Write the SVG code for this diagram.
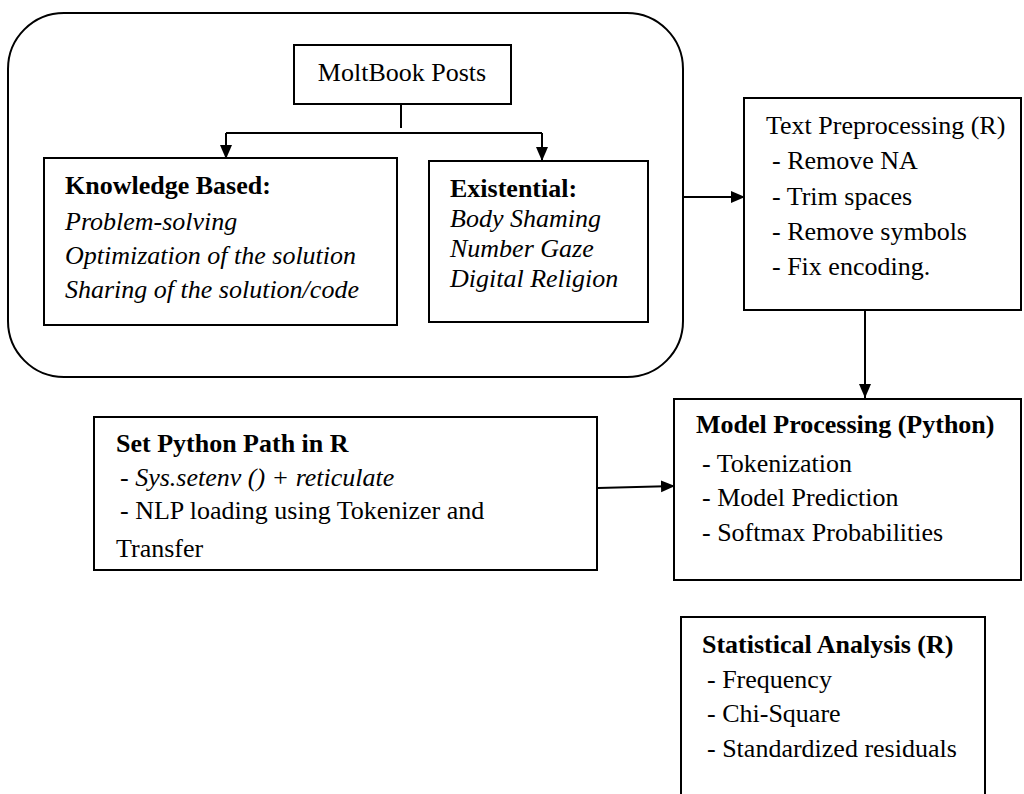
<svg xmlns="http://www.w3.org/2000/svg" width="1024" height="794" viewBox="0 0 1024 794">
<style>
.box{fill:#fff;stroke:#000;stroke-width:2}
.t{font-family:"Liberation Serif","DejaVu Serif",serif;font-size:26px;fill:#000}
.b{font-weight:bold}
.i{font-style:italic}
.c{fill:none;stroke:#000;stroke-width:2}
</style>
<defs>
<marker id="ah" markerUnits="userSpaceOnUse" markerWidth="14" markerHeight="14" viewBox="0 0 14 14" refX="14" refY="7" orient="auto">
<path d="M0,1 L14,7 L0,13 Z" fill="#000"/>
</marker>
</defs>
<rect width="1024" height="794" fill="#fff"/>
<g id="group-posts">
<rect class="box" x="8" y="13" width="675" height="364" rx="56" ry="56"/>
</g>
<g id="moltbook">
<rect class="box" x="294" y="45" width="217" height="59"/>
<text class="t" x="402" y="81" text-anchor="middle">MoltBook Posts</text>
</g>
<g id="knowledge">
<rect class="box" x="44" y="158" width="353" height="167"/>
<text class="t b" x="65" y="194">Knowledge Based:</text>
<text class="t i" x="65" y="230">Problem-solving</text>
<text class="t i" x="65" y="264">Optimization of the solution</text>
<text class="t i" x="65" y="298">Sharing of the solution/code</text>
</g>
<g id="existential">
<rect class="box" x="429" y="161" width="219" height="161"/>
<text class="t b" x="450" y="197">Existential:</text>
<text class="t i" x="450" y="227">Body Shaming</text>
<text class="t i" x="450" y="257">Number Gaze</text>
<text class="t i" x="450" y="287">Digital Religion</text>
</g>
<g id="preprocessing">
<rect class="box" x="744" y="98" width="277" height="212"/>
<text class="t" x="766" y="134">Text Preprocessing (R)</text>
<text class="t" x="772" y="169">- Remove NA</text>
<text class="t" x="772" y="205">- Trim spaces</text>
<text class="t" x="772" y="240">- Remove symbols</text>
<text class="t" x="772" y="275">- Fix encoding.</text>
</g>
<g id="python-path">
<rect class="box" x="94" y="417" width="503" height="153"/>
<text class="t b" x="116" y="452">Set Python Path in R</text>
<text class="t" x="120" y="486">- <tspan class="i">Sys.setenv () + reticulate</tspan></text>
<text class="t" x="120" y="519">- NLP loading using Tokenizer and</text>
<text class="t" x="116" y="557">Transfer</text>
</g>
<g id="model">
<rect class="box" x="674" y="399" width="347" height="181"/>
<text class="t b" x="696" y="433">Model Processing (Python)</text>
<text class="t" x="702" y="472">- Tokenization</text>
<text class="t" x="702" y="506">- Model Prediction</text>
<text class="t" x="702" y="541">- Softmax Probabilities</text>
</g>
<g id="statistics">
<rect class="box" x="681" y="617" width="304" height="200"/>
<text class="t b" x="702" y="653">Statistical Analysis (R)</text>
<text class="t" x="707" y="688">- Frequency</text>
<text class="t" x="707" y="722">- Chi-Square</text>
<text class="t" x="707" y="757">- Standardized residuals</text>
</g>
<g id="connectors">
<path class="c" d="M401,104 V128"/>
<path class="c" d="M226,133 H542"/>
<path class="c" d="M226,133 V159" marker-end="url(#ah)"/>
<path class="c" d="M542,133 V161" marker-end="url(#ah)"/>
<path class="c" d="M684,197 H745" marker-end="url(#ah)"/>
<path class="c" d="M865,310 V398" marker-end="url(#ah)"/>
<path class="c" d="M598,488 L675,486" marker-end="url(#ah)"/>
</g>
</svg>
